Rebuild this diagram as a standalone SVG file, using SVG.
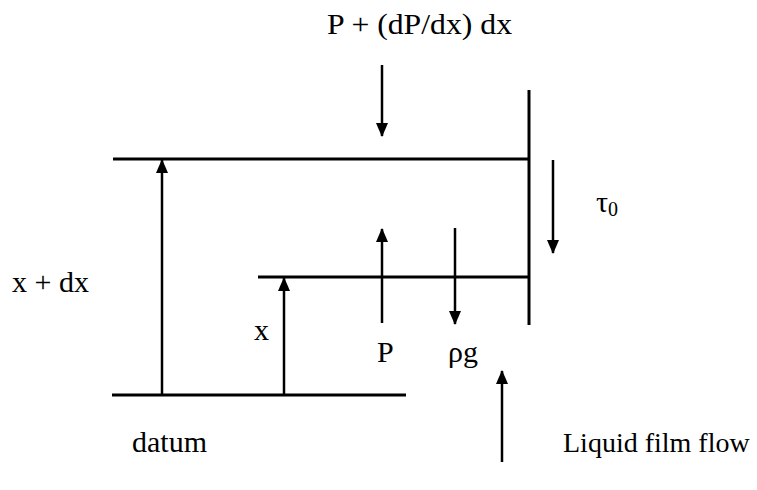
<svg xmlns="http://www.w3.org/2000/svg" width="757" height="490" viewBox="0 0 757 490">
<defs>
<marker id="ah" viewBox="0 0 14 12" refX="13" refY="6" markerWidth="14" markerHeight="12" markerUnits="userSpaceOnUse" orient="auto">
<path d="M0,0 L14,6 L0,12 Z" fill="#000"/>
</marker>
</defs>
<style>
.ln{stroke:#000;stroke-width:3;fill:none}
.ar{stroke:#000;stroke-width:2.5;fill:none;marker-end:url(#ah)}
.t{font-family:"Liberation Serif","Times New Roman",serif;font-size:30px;fill:#000}
</style>
<rect width="757" height="490" fill="#fff"/>
<g id="lines">
<line class="ln" x1="113" y1="159" x2="529" y2="159"/>
<line class="ln" x1="258" y1="277" x2="529" y2="277"/>
<line class="ln" x1="112" y1="395" x2="406" y2="395"/>
<line class="ln" x1="529" y1="90" x2="529" y2="325"/>
</g>
<g id="connectors">
<line class="ar" x1="382" y1="65" x2="382" y2="136"/>
<line class="ar" x1="162" y1="395" x2="162" y2="160"/>
<line class="ar" x1="284" y1="395" x2="284" y2="278"/>
<line class="ar" x1="382" y1="323" x2="382" y2="229"/>
<line class="ar" x1="455" y1="228" x2="455" y2="324"/>
<line class="ar" x1="553" y1="160" x2="553" y2="253"/>
<line class="ar" x1="502" y1="462" x2="502" y2="371"/>
</g>
<g id="labels">
<text class="t" x="327" y="34" textLength="185" lengthAdjust="spacingAndGlyphs">P + (dP/dx) dx</text>
<text class="t" x="12" y="292">x + dx</text>
<text class="t" x="254" y="340">x</text>
<text class="t" x="377" y="362">P</text>
<text class="t" x="448" y="362">ρg</text>
<text class="t" x="596" y="212">τ<tspan font-size="20" dy="4">0</tspan></text>
<text class="t" x="132" y="452">datum</text>
<text class="t" x="563" y="452" style="font-size:28px">Liquid film flow</text>
</g>
</svg>
